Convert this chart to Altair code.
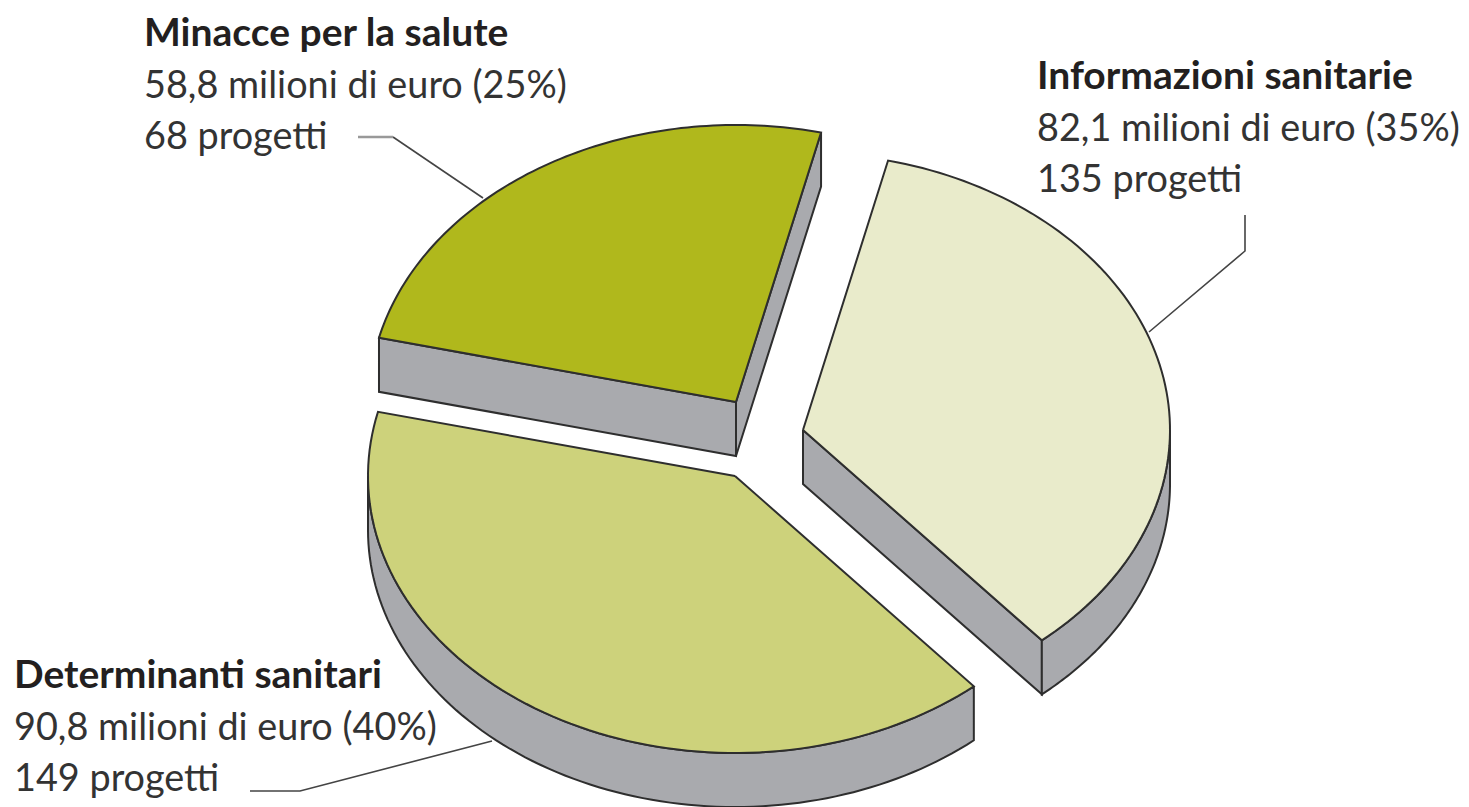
import math
import altair as alt
import pandas as pd

# Data
names = ["Informazioni sanitarie", "Determinanti sanitari", "Minacce per la salute"]
shares = [35, 40, 25]
amounts = ["82,1 milioni di euro (35%)", "90,8 milioni di euro (40%)", "58,8 milioni di euro (25%)"]
projects = ["135 progetti", "149 progetti", "68 progetti"]

# Styling / layout
colors = ["#E9EBCB", "#CDD27B", "#B0B81C"]
SIDE = "#A9AAAE"
LINE = "#2E2E2E"
A, B, DEPTH = 367, 277, 54
START = 13.4
centers = [(803, 430), (735, 476), (736, 402)]
label_pos = [(1037, 89), (14, 688), (144, 46)]
LH = 51.7
leaders = [
    [(1245, 215), (1245, 251), (1149, 332)],
    [(250, 791), (300, 791), (492, 741)],
    [(393, 137), (483, 198)],
]
soft_leaders = [[(358, 137), (393, 137)]]
FONT = "Lato"
FS_HEAD = 39
FS_BODY = 37.8

W, H = 1453, 799
xs = alt.Scale(domain=[8, 8 + W], range=[0, W])
ys = alt.Scale(domain=[8, 8 + H], range=[0, H])


def poly(points, fill, stroke=LINE, sw=2):
    pts = list(points) + [points[0]]
    df = pd.DataFrame({"x": [p[0] for p in pts], "y": [p[1] for p in pts], "i": range(len(pts))})
    return alt.Chart(df).mark_line(fill=fill, stroke=stroke, strokeWidth=sw, strokeJoin="miter").encode(
        x=alt.X("x:Q", scale=xs, axis=None),
        y=alt.Y("y:Q", scale=ys, axis=None),
        order="i:Q",
    )


def rim(cx, cy, t0, t1, n=90):
    out = []
    for k in range(n + 1):
        t = math.radians(t0 + (t1 - t0) * k / n)
        out.append((cx + A * math.sin(t), cy - B * math.cos(t)))
    return out


def leader(pts, color, sw):
    df = pd.DataFrame({"x": [p[0] for p in pts], "y": [p[1] for p in pts], "i": range(len(pts))})
    return alt.Chart(df).mark_line(stroke=color, strokeWidth=sw).encode(
        x=alt.X("x:Q", scale=xs, axis=None), y=alt.Y("y:Q", scale=ys, axis=None), order="i:Q")


layers = []
tops = []
angle = START
for share, col, (cx, cy) in zip(shares, colors, centers):
    sweep = share * 3.6
    end_angle = angle + sweep
    arc = rim(cx, cy, angle, end_angle)
    # only the faces turned towards the viewer
    if math.sin(math.radians(angle)) < 0:
        e = arc[0]
        layers.append(poly([(cx, cy), e, (e[0], e[1] + DEPTH), (cx, cy + DEPTH)], SIDE))
    if math.sin(math.radians(end_angle)) > 0:
        e = arc[-1]
        layers.append(poly([(cx, cy), e, (e[0], e[1] + DEPTH), (cx, cy + DEPTH)], SIDE))
    v0, v1 = max(angle, 90), min(end_angle, 270)
    if v1 > v0:
        front = rim(cx, cy, v0, v1)
        layers.append(poly(front + [(x, y + DEPTH) for x, y in front[::-1]], SIDE))
    tops.append(poly([(cx, cy)] + arc, col))
    angle = end_angle
layers += tops

layers += [leader(p, "#444444", 1.6) for p in leaders]
layers += [leader(p, "#999999", 2.6) for p in soft_leaders]

rows = []
for n, a, p, (x, y) in zip(names, amounts, projects, label_pos):
    rows.append({"x": x, "y": y, "t": n, "b": True})
    rows.append({"x": x, "y": y + LH, "t": a, "b": False})
    rows.append({"x": x, "y": y + 2 * LH, "t": p, "b": False})
tdf = pd.DataFrame(rows)
for bold, w, c, fs in [(True, 700, "#231F20", FS_HEAD), (False, 400, "#333333", FS_BODY)]:
    layers.append(alt.Chart(tdf[tdf.b == bold]).mark_text(
        align="left", baseline="alphabetic", font=FONT, fontSize=fs, fontWeight=w, color=c
    ).encode(x=alt.X("x:Q", scale=xs, axis=None), y=alt.Y("y:Q", scale=ys, axis=None), text="t:N"))

chart = alt.layer(*layers).properties(
    width=W, height=H, padding=0, autosize=alt.AutoSizeParams(type="none"), background="white"
).configure_view(stroke=None)
chart.save("out.html", embed_options={"renderer": "svg", "actions": False})
